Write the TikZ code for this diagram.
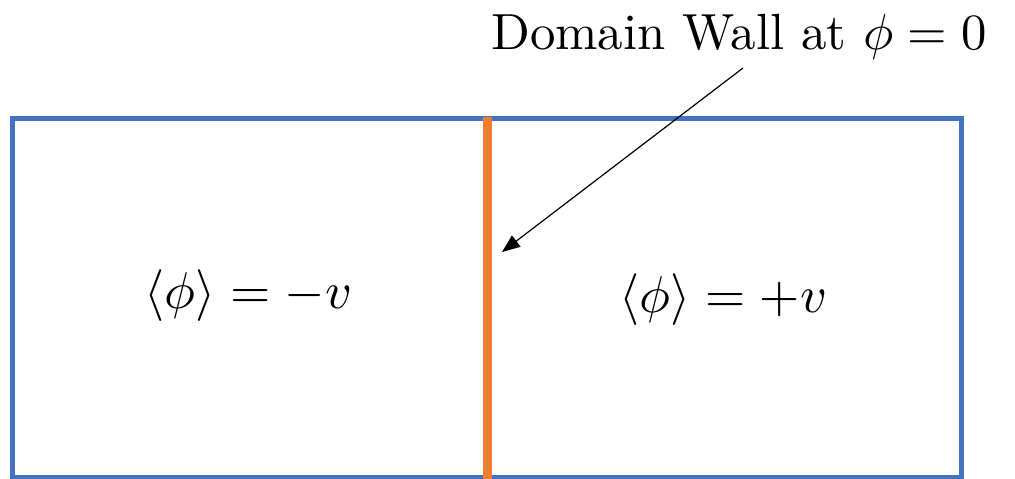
\documentclass[tikz,border=0pt]{standalone}
\usetikzlibrary{arrows.meta}
\definecolor{boxblue}{HTML}{4472C4}
\definecolor{wallorange}{HTML}{ED7D31}
\tikzset{
  region/.style={draw=boxblue, line width=2.5pt},
  wallline/.style={draw=wallorange, line width=4.5pt},
  pointer/.style={draw=black, line width=0.6pt, -{Triangle[length=9pt,width=7pt]}},
  bigtext/.style={inner sep=0pt, font=\normalsize, scale=2.54},
  mathlabel/.style={inner sep=0pt, font=\normalsize, scale=2.59}
}
\begin{document}
\begin{tikzpicture}[x=0.5pt,y=-0.5pt]
\useasboundingbox (0,0) rectangle (1015,478);
\draw[region] (12.5,118.5) rectangle (961.5,477.5);
\coordinate (walltop) at (487.5,117);
\coordinate (wallbot) at (487.5,482);
\draw[wallline] (walltop) -- (wallbot);
\node[bigtext, anchor=base] (title) at (739,49) {Domain Wall at $\phi = 0$};
\node[mathlabel, anchor=base] (lhs) at (248.5,308) {$\langle\phi\rangle = -v$};
\node[mathlabel, anchor=base] (rhs) at (723.5,312) {$\langle\phi\rangle = +v$};
\coordinate (from) at (743,68);
\coordinate (to) at (502,252);
\draw[pointer] (from) -- (to);
\end{tikzpicture}
\end{document}
